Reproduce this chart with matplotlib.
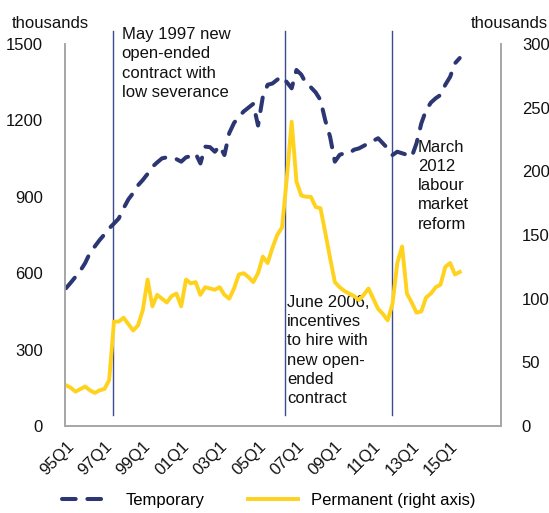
import matplotlib
matplotlib.use("Agg")
import matplotlib.pyplot as plt
import numpy as np

plt.rcParams['font.family'] = ['Liberation Sans', 'DejaVu Sans']

# quarters from 95Q1 to 15Q3
quarters = [f"{(95 + i // 4) % 100:02d}Q{i % 4 + 1}" for i in range(83)]

# temporary contracts, thousands (left axis)
temporary = [541, 563, 586, 610, 640, 680, 705, 730, 752, 776,
             795, 815, 855, 890, 915, 945, 966, 990, 1018, 1035,
             1051, 1055, 1050, 1048, 1038, 1055, 1060, 1070, 1031, 1097,
             1095, 1077, 1100, 1064, 1150, 1190, 1214, 1235, 1250, 1265,
             1180, 1293, 1340, 1345, 1360, 1372, 1350, 1326, 1398, 1380,
             1345, 1330, 1310, 1280, 1200, 1136, 1038, 1065, 1071, 1071,
             1085, 1090, 1100, 1110, 1120, 1130, 1110, 1090, 1064, 1077,
             1071, 1065, 1057, 1110, 1188, 1241, 1270, 1287, 1300, 1340,
             1371, 1424, 1445]

# permanent contracts, thousands (right axis)
permanent = [32, 30, 27, 29, 31, 28, 26, 28, 29, 36,
             82, 82, 85, 80, 75, 79, 91, 115, 94, 103,
             100, 97, 102, 104, 94, 115, 112, 113, 103, 109,
             108, 107, 109, 103, 100, 108, 119, 120, 117, 113,
             120, 133, 128, 140, 150, 156, 195, 239, 192, 181,
             180, 180, 172, 171, 152, 132, 113, 109, 106, 104,
             102, 99, 103, 108, 100, 92, 88, 83, 96, 128,
             141, 104, 97, 89, 90, 101, 104, 109, 111, 125,
             128, 119, 121]

# reform events: position on the quarter axis and label
event_pos = [9.8, 45.6, 67.9]
event_text = ["May 1997 new\nopen-ended\ncontract with\nlow severance",
              "June 2006,\nincentives\nto hire with\nnew open-\nended\ncontract",
              "March\n2012\nlabour\nmarket\nreform"]

navy = '#2B3672'
yellow = '#FFD21E'
grey = '#A6A6A6'

fig = plt.figure(figsize=(5.49, 5.13), dpi=100)
ax = fig.add_axes([0.1184, 0.1696, 0.7942, 0.7446])
ax2 = ax.twinx()

x = np.arange(len(quarters))
l1, = ax.plot(x, temporary, color=navy, lw=2.9, dashes=(3.4, 2.9),
              dash_capstyle='round', label='Temporary', zorder=3)
l2, = ax2.plot(x, permanent, color=yellow, lw=2.8, label='Permanent (right axis)',
               solid_joinstyle='round', zorder=2)

for p in event_pos:
    ax.plot([p, p], [43, 1550], color='#3D4A8C', lw=1.0, clip_on=False, zorder=1)

ax.text(event_pos[0] + 1.8, 1567, event_text[0], fontsize=12, va='top', ha='left',
        linespacing=1.36, color='#111111')
ax.text(event_pos[1] + 0.4, 515, event_text[1], fontsize=12, va='top', ha='left',
        linespacing=1.36, color='#111111')
ax.text(event_pos[2] + 5.4, 1125, event_text[2], fontsize=12, va='top', ha='left',
        linespacing=1.36, color='#111111')

ax.set_xlim(-0.2, 90.6)
ax.set_ylim(0, 1500)
ax2.set_ylim(0, 300)
ax.set_yticks([0, 300, 600, 900, 1200, 1500])
ax2.set_yticks([0, 50, 100, 150, 200, 250, 300])
ax.set_xticks(x[::8])
ax.set_xticklabels(quarters[::8], rotation=45, ha='right', rotation_mode='anchor')

for a in (ax, ax2):
    a.tick_params(length=0, labelsize=12, colors='#111111')
    a.spines['top'].set_visible(False)
    for s in ('left', 'right', 'bottom'):
        a.spines[s].set_color(grey)
        a.spines[s].set_linewidth(1.2)
ax.tick_params(axis='y', pad=16)
ax2.tick_params(axis='y', pad=15)
ax.tick_params(axis='x', pad=9)

fig.text(0.022, 0.955, 'thousands', fontsize=12, ha='left', va='center', color='#111111')
fig.text(0.998, 0.955, 'thousands', fontsize=12, ha='right', va='center', color='#111111')

fig.legend(handles=[l1, l2], loc='lower center', bbox_to_anchor=(0.49, -0.02), ncol=2,
           frameon=False, fontsize=12, handlelength=3.0, handletextpad=0.8,
           columnspacing=2.6)

fig.savefig('out.png', dpi=100)
